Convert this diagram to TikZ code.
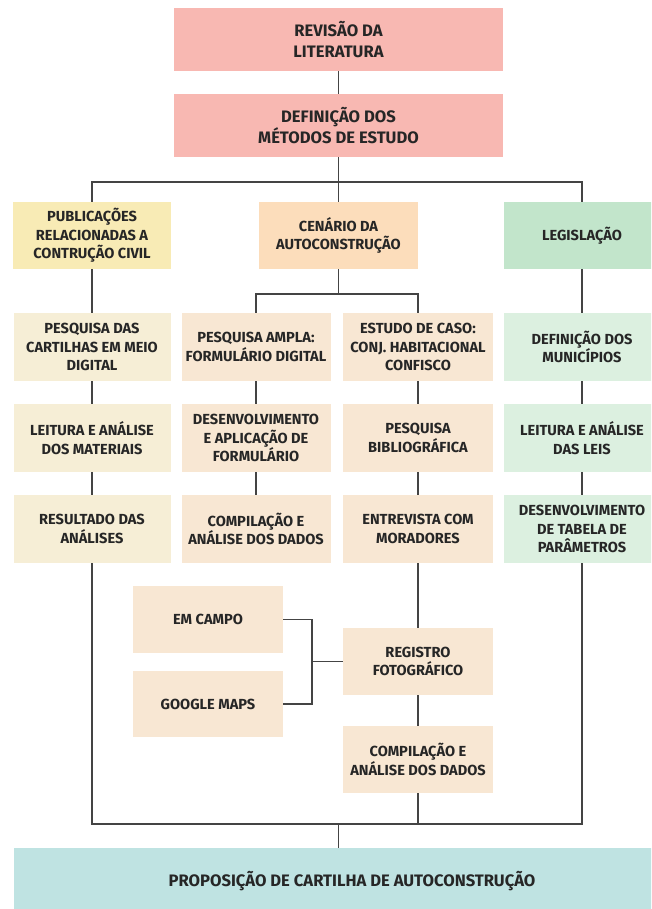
\documentclass[tikz,border=0pt]{standalone}
\usepackage{fontspec}
\setmainfont{Fira Sans}
\definecolor{pinkc}{HTML}{F8B8B2}
\definecolor{yel}{HTML}{F8EBB5}
\definecolor{yellt}{HTML}{F6EED6}
\definecolor{peach}{HTML}{FCDDBB}
\definecolor{peachlt}{HTML}{F8E7D3}
\definecolor{grn}{HTML}{C2E5CB}
\definecolor{grnlt}{HTML}{DCF0E0}
\definecolor{teal}{HTML}{BFE3E2}
\definecolor{txt}{HTML}{262626}
\definecolor{ln}{HTML}{444444}
\begin{document}
\begin{tikzpicture}[x=1pt,y=-1pt,
  box/.style={rectangle, inner sep=0pt, align=center, text=txt,
     font=\fontsize{14.6}{18.5}\selectfont\bfseries, minimum height=67pt},
  bigbox/.style={box, font=\fontsize{16.6}{21}\selectfont\bfseries, minimum height=63pt},
  conn/.style={draw=ln, line width=1.2pt}]
\useasboundingbox (0,0) rectangle (651,909);
\clip (0,0) rectangle (651,909);
\fill[white] (0,0) rectangle (651,909);
% top
\node[bigbox, fill=pinkc, minimum width=329pt] (rev) at (338.5,39.5) {REVISÃO DA\\LITERATURA};
\node[bigbox, fill=pinkc, minimum width=329pt] (def) at (338.5,125.5) {DEFINIÇÃO DOS\\MÉTODOS DE ESTUDO};
% level 2
\node[box, fill=yel, minimum width=158pt] (pub) at (92,235.5) {PUBLICAÇÕES\\RELACIONADAS A\\CONTRUÇÃO CIVIL};
\node[box, fill=peach, minimum width=159pt] (cen) at (338.5,235.5) {CENÁRIO DA\\AUTOCONSTRUÇÃO};
\node[box, fill=grn, minimum width=156pt] (leg) at (582,235.5) {LEGISLAÇÃO};
% row 1
\node[box, fill=yellt, minimum width=157pt, minimum height=68pt] (a1) at (92,347) {PESQUISA DAS\\CARTILHAS EM MEIO\\DIGITAL};
\node[box, fill=peachlt, minimum width=149pt, minimum height=68pt] (b1) at (256,347) {PESQUISA AMPLA:\\FORMULÁRIO DIGITAL};
\node[box, fill=peachlt, minimum width=150pt, minimum height=68pt] (c1) at (418,347) {ESTUDO DE CASO:\\CONJ. HABITACIONAL\\CONFISCO};
\node[box, fill=grnlt, minimum width=156pt, minimum height=68pt] (d1) at (582,347) {DEFINIÇÃO DOS\\MUNICÍPIOS};
% row 2
\node[box, fill=yellt, minimum width=157pt, minimum height=68pt] (a2) at (92,438) {LEITURA E ANÁLISE\\DOS MATERIAIS};
\node[box, fill=peachlt, minimum width=149pt, minimum height=68pt] (b2) at (256,438) {DESENVOLVIMENTO\\E APLICAÇÃO DE\\FORMULÁRIO};
\node[box, fill=peachlt, minimum width=150pt, minimum height=68pt] (c2) at (418,438) {PESQUISA\\BIBLIOGRÁFICA};
\node[box, fill=grnlt, minimum width=156pt, minimum height=68pt] (d2) at (582,438) {LEITURA E ANÁLISE\\DAS LEIS};
% row 3
\node[box, fill=yellt, minimum width=157pt, minimum height=68pt] (a3) at (92,529) {RESULTADO DAS\\ANÁLISES};
\node[box, fill=peachlt, minimum width=149pt, minimum height=68pt] (b3) at (256,529) {COMPILAÇÃO E\\ANÁLISE DOS DADOS};
\node[box, fill=peachlt, minimum width=150pt, minimum height=68pt] (c3) at (418,529) {ENTREVISTA COM\\MORADORES};
\node[box, fill=grnlt, minimum width=156pt, minimum height=68pt] (d3) at (582,529) {DESENVOLVIMENTO\\DE TABELA DE\\PARÂMETROS};
% lower
\node[box, fill=peachlt, minimum width=150pt] (campo) at (208,619.5) {EM CAMPO};
\node[box, fill=peachlt, minimum width=150pt, minimum height=66pt] (gmaps) at (208,704) {GOOGLE MAPS};
\node[box, fill=peachlt, minimum width=150pt] (reg) at (418,661.5) {REGISTRO\\FOTOGRÁFICO};
\node[box, fill=peachlt, minimum width=150pt] (comp) at (418,759.5) {COMPILAÇÃO E\\ANÁLISE DOS DADOS};
% bottom
\node[bigbox, fill=teal, minimum width=676pt, minimum height=67pt] (prop) at (352,881.5) {PROPOSIÇÃO DE CARTILHA DE AUTOCONSTRUÇÃO};
% coordinates
\coordinate (bus1) at (338.5,182);
\coordinate (bus2) at (338.5,294);
\coordinate (bus3) at (338.5,824);
\coordinate (j) at (312,661.5);
% connectors
\draw[conn] (rev) -- (def);
\draw[conn] (def) -- (bus1);
\draw[conn] (pub.north) |- (bus1) -| (leg.north);
\draw[conn] (bus1) -- (cen.north);
\draw[conn] (cen) -- (bus2);
\draw[conn] (b1.north) |- (bus2) -| (c1.north);
\draw[conn] (pub) -- (a1);
\draw[conn] (leg) -- (d1);
\draw[conn] (a1) -- (a2);
\draw[conn] (a2) -- (a3);
\draw[conn] (b1) -- (b2);
\draw[conn] (b2) -- (b3);
\draw[conn] (c1) -- (c2);
\draw[conn] (c2) -- (c3);
\draw[conn] (c3) -- (reg);
\draw[conn] (reg) -- (comp);
\draw[conn] (d1) -- (d2);
\draw[conn] (d2) -- (d3);
\draw[conn] (campo.east) -| (j) |- (gmaps.east);
\draw[conn] (j) -- (reg.west);
\draw[conn] (a3.south) |- (bus3) -| (d3.south);
\draw[conn] (comp.south) -- (comp.south |- bus3);
\draw[conn] (bus3) -- (bus3 |- prop.north);
\end{tikzpicture}
\end{document}
